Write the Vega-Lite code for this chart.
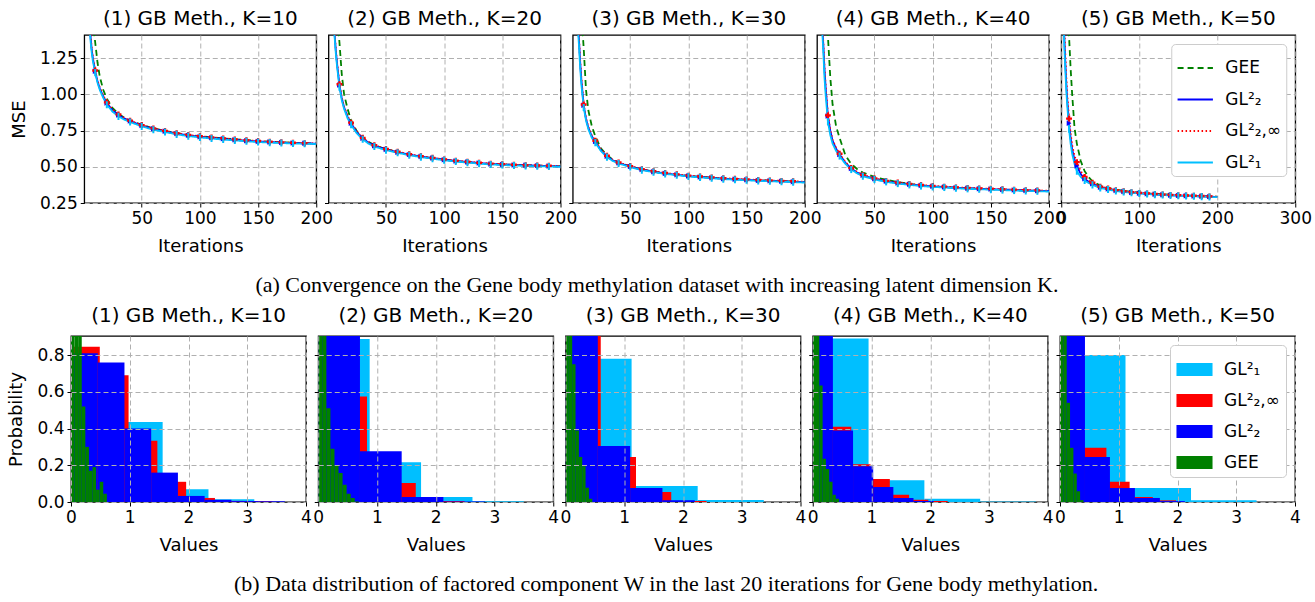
{
"$schema": "https://vega.github.io/schema/vega-lite/v6.json",
"padding": {"left": 7, "top": 8, "right": 5, "bottom": 5},
"background": "white",
"config": {
  "font": "DejaVu Sans",
  "view": {"stroke": "black", "strokeWidth": 1.3},
  "axis": {"domain": false, "grid": true, "gridColor": "#b0b0b0", "gridDash": [5, 3], "gridWidth": 1, "tickColor": "black", "tickSize": 4, "tickWidth": 1, "labelFontSize": 17, "labelColor": "black", "titleFontSize": 18, "titleFontWeight": "normal", "titleColor": "black", "labelFont": "DejaVu Sans", "titleFont": "DejaVu Sans", "labelPadding": 3, "titlePadding": 11, "labelOverlap": false, "labelBound": false, "labelFlush": false},
  "title": {"font": "DejaVu Sans", "fontSize": 20, "fontWeight": "normal", "color": "black", "offset": 6}
},
"datasets": {
"lines": [
{"p":1,"it":1,"GEE":6.0,"GL22":3.6,"GL2inf":3.62,"GL1":3.5},
{"p":1,"it":2,"GEE":4.0,"GL22":2.5,"GL2inf":2.52,"GL1":2.4},
{"p":1,"it":3,"GEE":3.0,"GL22":1.95,"GL2inf":1.96,"GL1":1.9},
{"p":1,"it":4,"GEE":2.4,"GL22":1.7,"GL2inf":1.71,"GL1":1.65},
{"p":1,"it":5,"GEE":2.0,"GL22":1.52,"GL2inf":1.53,"GL1":1.48},
{"p":1,"it":6,"GEE":1.8,"GL22":1.40,"GL2inf":1.41,"GL1":1.37},
{"p":1,"it":7,"GEE":1.62,"GL22":1.31,"GL2inf":1.32,"GL1":1.29},
{"p":1,"it":8,"GEE":1.5,"GL22":1.25,"GL2inf":1.255,"GL1":1.23},
{"p":1,"it":10,"GEE":1.36,"GL22":1.16,"GL2inf":1.165,"GL1":1.15},
{"p":1,"it":12,"GEE":1.22,"GL22":1.09,"GL2inf":1.095,"GL1":1.08},
{"p":1,"it":14,"GEE":1.12,"GL22":1.04,"GL2inf":1.045,"GL1":1.03},
{"p":1,"it":17,"GEE":1.03,"GL22":0.985,"GL2inf":0.99,"GL1":0.975},
{"p":1,"it":20,"GEE":0.97,"GL22":0.94,"GL2inf":0.945,"GL1":0.928},
{"p":1,"it":25,"GEE":0.905,"GL22":0.89,"GL2inf":0.895,"GL1":0.88},
{"p":1,"it":30,"GEE":0.866,"GL22":0.858,"GL2inf":0.862,"GL1":0.848},
{"p":1,"it":35,"GEE":0.84,"GL22":0.834,"GL2inf":0.838,"GL1":0.826},
{"p":1,"it":40,"GEE":0.82,"GL22":0.816,"GL2inf":0.819,"GL1":0.809},
{"p":1,"it":50,"GEE":0.79,"GL22":0.785,"GL2inf":0.788,"GL1":0.779},
{"p":1,"it":60,"GEE":0.765,"GL22":0.762,"GL2inf":0.765,"GL1":0.756},
{"p":1,"it":70,"GEE":0.748,"GL22":0.745,"GL2inf":0.748,"GL1":0.74},
{"p":1,"it":80,"GEE":0.732,"GL22":0.729,"GL2inf":0.732,"GL1":0.724},
{"p":1,"it":90,"GEE":0.72,"GL22":0.717,"GL2inf":0.72,"GL1":0.712},
{"p":1,"it":100,"GEE":0.711,"GL22":0.708,"GL2inf":0.711,"GL1":0.703},
{"p":1,"it":110,"GEE":0.703,"GL22":0.70,"GL2inf":0.703,"GL1":0.695},
{"p":1,"it":120,"GEE":0.696,"GL22":0.693,"GL2inf":0.696,"GL1":0.688},
{"p":1,"it":130,"GEE":0.69,"GL22":0.686,"GL2inf":0.689,"GL1":0.682},
{"p":1,"it":140,"GEE":0.684,"GL22":0.68,"GL2inf":0.683,"GL1":0.676},
{"p":1,"it":150,"GEE":0.678,"GL22":0.675,"GL2inf":0.678,"GL1":0.671},
{"p":1,"it":160,"GEE":0.673,"GL22":0.671,"GL2inf":0.673,"GL1":0.667},
{"p":1,"it":170,"GEE":0.669,"GL22":0.667,"GL2inf":0.669,"GL1":0.664},
{"p":1,"it":180,"GEE":0.666,"GL22":0.664,"GL2inf":0.666,"GL1":0.661},
{"p":1,"it":190,"GEE":0.663,"GL22":0.662,"GL2inf":0.663,"GL1":0.659},
{"p":1,"it":200,"GEE":0.66,"GL22":0.66,"GL2inf":0.661,"GL1":0.657},
{"p":2,"it":1,"GEE":6.0,"GL22":3.6,"GL2inf":3.62,"GL1":3.5},
{"p":2,"it":2,"GEE":4.0,"GL22":2.5,"GL2inf":2.52,"GL1":2.4},
{"p":2,"it":3,"GEE":3.0,"GL22":1.95,"GL2inf":1.96,"GL1":1.9},
{"p":2,"it":4,"GEE":2.4,"GL22":1.7,"GL2inf":1.71,"GL1":1.65},
{"p":2,"it":5,"GEE":2.05,"GL22":1.52,"GL2inf":1.53,"GL1":1.48},
{"p":2,"it":6,"GEE":1.85,"GL22":1.40,"GL2inf":1.41,"GL1":1.38},
{"p":2,"it":7,"GEE":1.68,"GL22":1.29,"GL2inf":1.30,"GL1":1.27},
{"p":2,"it":8,"GEE":1.55,"GL22":1.21,"GL2inf":1.215,"GL1":1.19},
{"p":2,"it":10,"GEE":1.36,"GL22":1.065,"GL2inf":1.07,"GL1":1.05},
{"p":2,"it":12,"GEE":1.14,"GL22":0.975,"GL2inf":0.98,"GL1":0.96},
{"p":2,"it":14,"GEE":1.0,"GL22":0.91,"GL2inf":0.915,"GL1":0.90},
{"p":2,"it":17,"GEE":0.90,"GL22":0.845,"GL2inf":0.85,"GL1":0.835},
{"p":2,"it":20,"GEE":0.82,"GL22":0.80,"GL2inf":0.805,"GL1":0.79},
{"p":2,"it":25,"GEE":0.745,"GL22":0.738,"GL2inf":0.742,"GL1":0.73},
{"p":2,"it":30,"GEE":0.70,"GL22":0.697,"GL2inf":0.70,"GL1":0.69},
{"p":2,"it":35,"GEE":0.672,"GL22":0.667,"GL2inf":0.67,"GL1":0.66},
{"p":2,"it":40,"GEE":0.65,"GL22":0.646,"GL2inf":0.649,"GL1":0.64},
{"p":2,"it":50,"GEE":0.622,"GL22":0.62,"GL2inf":0.623,"GL1":0.615},
{"p":2,"it":60,"GEE":0.602,"GL22":0.601,"GL2inf":0.604,"GL1":0.597},
{"p":2,"it":70,"GEE":0.585,"GL22":0.584,"GL2inf":0.587,"GL1":0.58},
{"p":2,"it":80,"GEE":0.571,"GL22":0.571,"GL2inf":0.573,"GL1":0.567},
{"p":2,"it":90,"GEE":0.56,"GL22":0.56,"GL2inf":0.562,"GL1":0.556},
{"p":2,"it":100,"GEE":0.549,"GL22":0.549,"GL2inf":0.551,"GL1":0.545},
{"p":2,"it":110,"GEE":0.54,"GL22":0.54,"GL2inf":0.542,"GL1":0.536},
{"p":2,"it":120,"GEE":0.533,"GL22":0.533,"GL2inf":0.535,"GL1":0.529},
{"p":2,"it":130,"GEE":0.526,"GL22":0.526,"GL2inf":0.528,"GL1":0.522},
{"p":2,"it":140,"GEE":0.52,"GL22":0.52,"GL2inf":0.522,"GL1":0.516},
{"p":2,"it":150,"GEE":0.516,"GL22":0.516,"GL2inf":0.518,"GL1":0.512},
{"p":2,"it":160,"GEE":0.513,"GL22":0.513,"GL2inf":0.514,"GL1":0.509},
{"p":2,"it":170,"GEE":0.51,"GL22":0.51,"GL2inf":0.511,"GL1":0.506},
{"p":2,"it":180,"GEE":0.508,"GL22":0.508,"GL2inf":0.509,"GL1":0.504},
{"p":2,"it":190,"GEE":0.506,"GL22":0.505,"GL2inf":0.507,"GL1":0.502},
{"p":2,"it":200,"GEE":0.504,"GL22":0.503,"GL2inf":0.505,"GL1":0.50},
{"p":3,"it":1,"GEE":6.0,"GL22":3.4,"GL2inf":3.42,"GL1":3.3},
{"p":3,"it":2,"GEE":4.0,"GL22":2.4,"GL2inf":2.42,"GL1":2.3},
{"p":3,"it":3,"GEE":3.0,"GL22":1.92,"GL2inf":1.93,"GL1":1.85},
{"p":3,"it":4,"GEE":2.5,"GL22":1.67,"GL2inf":1.68,"GL1":1.62},
{"p":3,"it":5,"GEE":2.1,"GL22":1.5,"GL2inf":1.51,"GL1":1.46},
{"p":3,"it":6,"GEE":1.9,"GL22":1.37,"GL2inf":1.38,"GL1":1.33},
{"p":3,"it":7,"GEE":1.7,"GL22":1.22,"GL2inf":1.23,"GL1":1.18},
{"p":3,"it":8,"GEE":1.56,"GL22":1.10,"GL2inf":1.11,"GL1":1.07},
{"p":3,"it":10,"GEE":1.32,"GL22":0.925,"GL2inf":0.93,"GL1":0.91},
{"p":3,"it":12,"GEE":1.03,"GL22":0.83,"GL2inf":0.835,"GL1":0.82},
{"p":3,"it":14,"GEE":0.89,"GL22":0.77,"GL2inf":0.775,"GL1":0.76},
{"p":3,"it":17,"GEE":0.78,"GL22":0.71,"GL2inf":0.715,"GL1":0.70},
{"p":3,"it":20,"GEE":0.71,"GL22":0.675,"GL2inf":0.68,"GL1":0.667},
{"p":3,"it":25,"GEE":0.625,"GL22":0.613,"GL2inf":0.617,"GL1":0.607},
{"p":3,"it":30,"GEE":0.58,"GL22":0.572,"GL2inf":0.576,"GL1":0.567},
{"p":3,"it":35,"GEE":0.55,"GL22":0.545,"GL2inf":0.548,"GL1":0.54},
{"p":3,"it":40,"GEE":0.53,"GL22":0.527,"GL2inf":0.53,"GL1":0.523},
{"p":3,"it":50,"GEE":0.503,"GL22":0.502,"GL2inf":0.505,"GL1":0.498},
{"p":3,"it":60,"GEE":0.481,"GL22":0.481,"GL2inf":0.484,"GL1":0.477},
{"p":3,"it":70,"GEE":0.467,"GL22":0.466,"GL2inf":0.469,"GL1":0.463},
{"p":3,"it":80,"GEE":0.455,"GL22":0.454,"GL2inf":0.457,"GL1":0.451},
{"p":3,"it":90,"GEE":0.446,"GL22":0.445,"GL2inf":0.448,"GL1":0.442},
{"p":3,"it":100,"GEE":0.437,"GL22":0.436,"GL2inf":0.439,"GL1":0.433},
{"p":3,"it":110,"GEE":0.431,"GL22":0.43,"GL2inf":0.433,"GL1":0.427},
{"p":3,"it":120,"GEE":0.425,"GL22":0.424,"GL2inf":0.427,"GL1":0.421},
{"p":3,"it":130,"GEE":0.419,"GL22":0.418,"GL2inf":0.421,"GL1":0.415},
{"p":3,"it":140,"GEE":0.415,"GL22":0.414,"GL2inf":0.417,"GL1":0.411},
{"p":3,"it":150,"GEE":0.411,"GL22":0.41,"GL2inf":0.413,"GL1":0.407},
{"p":3,"it":160,"GEE":0.407,"GL22":0.406,"GL2inf":0.409,"GL1":0.403},
{"p":3,"it":170,"GEE":0.404,"GL22":0.403,"GL2inf":0.406,"GL1":0.40},
{"p":3,"it":180,"GEE":0.401,"GL22":0.40,"GL2inf":0.403,"GL1":0.397},
{"p":3,"it":190,"GEE":0.398,"GL22":0.397,"GL2inf":0.40,"GL1":0.394},
{"p":3,"it":200,"GEE":0.395,"GL22":0.394,"GL2inf":0.397,"GL1":0.391},
{"p":4,"it":1,"GEE":6.0,"GL22":3.4,"GL2inf":3.42,"GL1":3.3},
{"p":4,"it":2,"GEE":4.0,"GL22":2.4,"GL2inf":2.42,"GL1":2.3},
{"p":4,"it":3,"GEE":3.0,"GL22":1.9,"GL2inf":1.91,"GL1":1.85},
{"p":4,"it":4,"GEE":2.5,"GL22":1.65,"GL2inf":1.66,"GL1":1.6},
{"p":4,"it":5,"GEE":2.15,"GL22":1.49,"GL2inf":1.5,"GL1":1.45},
{"p":4,"it":6,"GEE":1.95,"GL22":1.35,"GL2inf":1.36,"GL1":1.3},
{"p":4,"it":7,"GEE":1.78,"GL22":1.18,"GL2inf":1.19,"GL1":1.12},
{"p":4,"it":8,"GEE":1.65,"GL22":1.05,"GL2inf":1.06,"GL1":1.0},
{"p":4,"it":10,"GEE":1.40,"GL22":0.85,"GL2inf":0.855,"GL1":0.81},
{"p":4,"it":12,"GEE":1.12,"GL22":0.75,"GL2inf":0.755,"GL1":0.72},
{"p":4,"it":14,"GEE":0.93,"GL22":0.68,"GL2inf":0.685,"GL1":0.66},
{"p":4,"it":17,"GEE":0.78,"GL22":0.625,"GL2inf":0.63,"GL1":0.61},
{"p":4,"it":20,"GEE":0.70,"GL22":0.585,"GL2inf":0.59,"GL1":0.574},
{"p":4,"it":25,"GEE":0.58,"GL22":0.528,"GL2inf":0.532,"GL1":0.52},
{"p":4,"it":30,"GEE":0.52,"GL22":0.488,"GL2inf":0.492,"GL1":0.481},
{"p":4,"it":35,"GEE":0.485,"GL22":0.461,"GL2inf":0.465,"GL1":0.455},
{"p":4,"it":40,"GEE":0.46,"GL22":0.441,"GL2inf":0.444,"GL1":0.435},
{"p":4,"it":50,"GEE":0.43,"GL22":0.417,"GL2inf":0.42,"GL1":0.412},
{"p":4,"it":60,"GEE":0.41,"GL22":0.40,"GL2inf":0.403,"GL1":0.396},
{"p":4,"it":70,"GEE":0.395,"GL22":0.388,"GL2inf":0.391,"GL1":0.384},
{"p":4,"it":80,"GEE":0.382,"GL22":0.379,"GL2inf":0.382,"GL1":0.375},
{"p":4,"it":90,"GEE":0.372,"GL22":0.371,"GL2inf":0.374,"GL1":0.367},
{"p":4,"it":100,"GEE":0.365,"GL22":0.365,"GL2inf":0.368,"GL1":0.361},
{"p":4,"it":110,"GEE":0.36,"GL22":0.36,"GL2inf":0.363,"GL1":0.357},
{"p":4,"it":120,"GEE":0.355,"GL22":0.356,"GL2inf":0.358,"GL1":0.352},
{"p":4,"it":130,"GEE":0.351,"GL22":0.352,"GL2inf":0.354,"GL1":0.348},
{"p":4,"it":140,"GEE":0.348,"GL22":0.349,"GL2inf":0.351,"GL1":0.345},
{"p":4,"it":150,"GEE":0.345,"GL22":0.346,"GL2inf":0.348,"GL1":0.342},
{"p":4,"it":160,"GEE":0.342,"GL22":0.343,"GL2inf":0.345,"GL1":0.339},
{"p":4,"it":170,"GEE":0.339,"GL22":0.34,"GL2inf":0.342,"GL1":0.336},
{"p":4,"it":180,"GEE":0.336,"GL22":0.337,"GL2inf":0.339,"GL1":0.333},
{"p":4,"it":190,"GEE":0.334,"GL22":0.335,"GL2inf":0.337,"GL1":0.331},
{"p":4,"it":200,"GEE":0.332,"GL22":0.333,"GL2inf":0.335,"GL1":0.329},
{"p":5,"it":1,"GEE":6.0,"GL22":2.7,"GL2inf":2.8,"GL1":2.6},
{"p":5,"it":2,"GEE":4.0,"GL22":2.0,"GL2inf":2.1,"GL1":1.9},
{"p":5,"it":3,"GEE":3.0,"GL22":1.58,"GL2inf":1.65,"GL1":1.5},
{"p":5,"it":4,"GEE":2.4,"GL22":1.39,"GL2inf":1.45,"GL1":1.32},
{"p":5,"it":5,"GEE":2.0,"GL22":1.25,"GL2inf":1.3,"GL1":1.2},
{"p":5,"it":6,"GEE":1.8,"GL22":1.13,"GL2inf":1.17,"GL1":1.08},
{"p":5,"it":7,"GEE":1.65,"GL22":1.02,"GL2inf":1.06,"GL1":0.98},
{"p":5,"it":8,"GEE":1.55,"GL22":0.94,"GL2inf":0.97,"GL1":0.9},
{"p":5,"it":10,"GEE":1.40,"GL22":0.80,"GL2inf":0.833,"GL1":0.76},
{"p":5,"it":12,"GEE":1.18,"GL22":0.70,"GL2inf":0.73,"GL1":0.66},
{"p":5,"it":14,"GEE":1.0,"GL22":0.62,"GL2inf":0.65,"GL1":0.59},
{"p":5,"it":17,"GEE":0.77,"GL22":0.55,"GL2inf":0.575,"GL1":0.52},
{"p":5,"it":20,"GEE":0.66,"GL22":0.505,"GL2inf":0.532,"GL1":0.47},
{"p":5,"it":25,"GEE":0.54,"GL22":0.45,"GL2inf":0.47,"GL1":0.43},
{"p":5,"it":30,"GEE":0.47,"GL22":0.418,"GL2inf":0.43,"GL1":0.405},
{"p":5,"it":35,"GEE":0.43,"GL22":0.397,"GL2inf":0.405,"GL1":0.388},
{"p":5,"it":40,"GEE":0.40,"GL22":0.383,"GL2inf":0.39,"GL1":0.375},
{"p":5,"it":50,"GEE":0.37,"GL22":0.359,"GL2inf":0.363,"GL1":0.354},
{"p":5,"it":60,"GEE":0.355,"GL22":0.347,"GL2inf":0.35,"GL1":0.343},
{"p":5,"it":70,"GEE":0.342,"GL22":0.336,"GL2inf":0.339,"GL1":0.333},
{"p":5,"it":80,"GEE":0.334,"GL22":0.329,"GL2inf":0.331,"GL1":0.326},
{"p":5,"it":90,"GEE":0.328,"GL22":0.323,"GL2inf":0.325,"GL1":0.321},
{"p":5,"it":100,"GEE":0.322,"GL22":0.318,"GL2inf":0.32,"GL1":0.316},
{"p":5,"it":110,"GEE":0.317,"GL22":0.314,"GL2inf":0.316,"GL1":0.312},
{"p":5,"it":120,"GEE":0.313,"GL22":0.31,"GL2inf":0.312,"GL1":0.308},
{"p":5,"it":130,"GEE":0.31,"GL22":0.307,"GL2inf":0.309,"GL1":0.305},
{"p":5,"it":140,"GEE":0.307,"GL22":0.304,"GL2inf":0.306,"GL1":0.302},
{"p":5,"it":150,"GEE":0.305,"GL22":0.302,"GL2inf":0.304,"GL1":0.30},
{"p":5,"it":160,"GEE":0.302,"GL22":0.30,"GL2inf":0.302,"GL1":0.298},
{"p":5,"it":170,"GEE":0.30,"GL22":0.298,"GL2inf":0.30,"GL1":0.296},
{"p":5,"it":180,"GEE":0.298,"GL22":0.296,"GL2inf":0.298,"GL1":0.294},
{"p":5,"it":190,"GEE":0.296,"GL22":0.294,"GL2inf":0.296,"GL1":0.292},
{"p":5,"it":200,"GEE":0.294,"GL22":0.292,"GL2inf":0.294,"GL1":0.29}
],
"hist": [
{"p":1,"s":"GL1","lo":0,"hi":0.78,"h":0.75},
{"p":1,"s":"GL1","lo":0.78,"hi":1.56,"h":0.436},
{"p":1,"s":"GL1","lo":1.56,"hi":2.34,"h":0.07},
{"p":1,"s":"GL1","lo":2.34,"hi":3.12,"h":0.015},
{"p":1,"s":"GL2inf","lo":0,"hi":0.49,"h":0.845},
{"p":1,"s":"GL2inf","lo":0.49,"hi":0.98,"h":0.69},
{"p":1,"s":"GL2inf","lo":0.98,"hi":1.47,"h":0.333},
{"p":1,"s":"GL2inf","lo":1.47,"hi":1.96,"h":0.11},
{"p":1,"s":"GL2inf","lo":1.96,"hi":2.45,"h":0.022},
{"p":1,"s":"GL2inf","lo":2.45,"hi":2.94,"h":0.006},
{"p":1,"s":"GL2inf","lo":2.94,"hi":3.43,"h":0.004},
{"p":1,"s":"GL22","lo":0,"hi":0.455,"h":0.81},
{"p":1,"s":"GL22","lo":0.455,"hi":0.91,"h":0.76},
{"p":1,"s":"GL22","lo":0.91,"hi":1.365,"h":0.40},
{"p":1,"s":"GL22","lo":1.365,"hi":1.82,"h":0.16},
{"p":1,"s":"GL22","lo":1.82,"hi":2.275,"h":0.033},
{"p":1,"s":"GL22","lo":2.275,"hi":2.73,"h":0.012},
{"p":1,"s":"GL22","lo":2.73,"hi":3.185,"h":0.005},
{"p":1,"s":"GL22","lo":3.185,"hi":3.64,"h":0.004},
{"p":1,"s":"GEE","lo":0,"hi":0.061,"h":8.5},
{"p":1,"s":"GEE","lo":0.061,"hi":0.122,"h":4.3},
{"p":1,"s":"GEE","lo":0.122,"hi":0.183,"h":2.2},
{"p":1,"s":"GEE","lo":0.183,"hi":0.244,"h":0.52},
{"p":1,"s":"GEE","lo":0.244,"hi":0.305,"h":0.30},
{"p":1,"s":"GEE","lo":0.305,"hi":0.366,"h":0.17},
{"p":1,"s":"GEE","lo":0.366,"hi":0.427,"h":0.19},
{"p":1,"s":"GEE","lo":0.427,"hi":0.488,"h":0.067},
{"p":1,"s":"GEE","lo":0.488,"hi":0.549,"h":0.11},
{"p":1,"s":"GEE","lo":0.549,"hi":0.61,"h":0.045},
{"p":2,"s":"GL1","lo":0,"hi":0.875,"h":0.887},
{"p":2,"s":"GL1","lo":0.875,"hi":1.75,"h":0.217},
{"p":2,"s":"GL1","lo":1.75,"hi":2.625,"h":0.027},
{"p":2,"s":"GL1","lo":2.625,"hi":3.5,"h":0.004},
{"p":2,"s":"GL2inf","lo":0,"hi":0.415,"h":1.5},
{"p":2,"s":"GL2inf","lo":0.415,"hi":0.83,"h":0.575},
{"p":2,"s":"GL2inf","lo":0.83,"hi":1.245,"h":0.2},
{"p":2,"s":"GL2inf","lo":1.245,"hi":1.66,"h":0.103},
{"p":2,"s":"GL2inf","lo":1.66,"hi":2.075,"h":0.01},
{"p":2,"s":"GL2inf","lo":2.075,"hi":2.49,"h":0.005},
{"p":2,"s":"GL22","lo":0,"hi":0.71,"h":1.1},
{"p":2,"s":"GL22","lo":0.71,"hi":1.42,"h":0.277},
{"p":2,"s":"GL22","lo":1.42,"hi":2.13,"h":0.027},
{"p":2,"s":"GL22","lo":2.13,"hi":2.84,"h":0.003},
{"p":2,"s":"GEE","lo":0,"hi":0.069,"h":9.0},
{"p":2,"s":"GEE","lo":0.069,"hi":0.138,"h":4.2},
{"p":2,"s":"GEE","lo":0.138,"hi":0.207,"h":0.51},
{"p":2,"s":"GEE","lo":0.207,"hi":0.276,"h":0.29},
{"p":2,"s":"GEE","lo":0.276,"hi":0.345,"h":0.20},
{"p":2,"s":"GEE","lo":0.345,"hi":0.414,"h":0.158},
{"p":2,"s":"GEE","lo":0.414,"hi":0.483,"h":0.094},
{"p":2,"s":"GEE","lo":0.483,"hi":0.552,"h":0.045},
{"p":2,"s":"GEE","lo":0.552,"hi":0.621,"h":0.022},
{"p":2,"s":"GEE","lo":0.621,"hi":0.69,"h":0.003},
{"p":3,"s":"GL1","lo":0,"hi":1.125,"h":0.78},
{"p":3,"s":"GL1","lo":1.125,"hi":2.25,"h":0.087},
{"p":3,"s":"GL1","lo":2.25,"hi":3.375,"h":0.011},
{"p":3,"s":"GL2inf","lo":0,"hi":0.6,"h":1.3},
{"p":3,"s":"GL2inf","lo":0.6,"hi":1.2,"h":0.245},
{"p":3,"s":"GL2inf","lo":1.2,"hi":1.8,"h":0.055},
{"p":3,"s":"GL2inf","lo":1.8,"hi":2.4,"h":0.005},
{"p":3,"s":"GL22","lo":0,"hi":0.55,"h":1.4},
{"p":3,"s":"GL22","lo":0.55,"hi":1.1,"h":0.305},
{"p":3,"s":"GL22","lo":1.1,"hi":1.65,"h":0.076},
{"p":3,"s":"GL22","lo":1.65,"hi":2.2,"h":0.01},
{"p":3,"s":"GEE","lo":0,"hi":0.057,"h":11},
{"p":3,"s":"GEE","lo":0.057,"hi":0.114,"h":4.8},
{"p":3,"s":"GEE","lo":0.114,"hi":0.171,"h":0.75},
{"p":3,"s":"GEE","lo":0.171,"hi":0.228,"h":0.39},
{"p":3,"s":"GEE","lo":0.228,"hi":0.285,"h":0.245},
{"p":3,"s":"GEE","lo":0.285,"hi":0.342,"h":0.195},
{"p":3,"s":"GEE","lo":0.342,"hi":0.399,"h":0.078},
{"p":3,"s":"GEE","lo":0.399,"hi":0.456,"h":0.018},
{"p":4,"s":"GL1","lo":0,"hi":0.95,"h":0.89},
{"p":4,"s":"GL1","lo":0.95,"hi":1.9,"h":0.118},
{"p":4,"s":"GL1","lo":1.9,"hi":2.85,"h":0.018},
{"p":4,"s":"GL1","lo":2.85,"hi":3.8,"h":0.003},
{"p":4,"s":"GL2inf","lo":0,"hi":0.328,"h":2.27},
{"p":4,"s":"GL2inf","lo":0.328,"hi":0.656,"h":0.41},
{"p":4,"s":"GL2inf","lo":0.656,"hi":0.984,"h":0.205},
{"p":4,"s":"GL2inf","lo":0.984,"hi":1.312,"h":0.125},
{"p":4,"s":"GL2inf","lo":1.312,"hi":1.64,"h":0.04},
{"p":4,"s":"GL2inf","lo":1.64,"hi":1.968,"h":0.012},
{"p":4,"s":"GL2inf","lo":1.968,"hi":2.296,"h":0.005},
{"p":4,"s":"GL22","lo":0,"hi":0.343,"h":2.22},
{"p":4,"s":"GL22","lo":0.343,"hi":0.686,"h":0.39},
{"p":4,"s":"GL22","lo":0.686,"hi":1.029,"h":0.195},
{"p":4,"s":"GL22","lo":1.029,"hi":1.372,"h":0.082},
{"p":4,"s":"GL22","lo":1.372,"hi":1.715,"h":0.022},
{"p":4,"s":"GL22","lo":1.715,"hi":2.058,"h":0.006},
{"p":4,"s":"GEE","lo":0,"hi":0.056,"h":11.5},
{"p":4,"s":"GEE","lo":0.056,"hi":0.112,"h":5.2},
{"p":4,"s":"GEE","lo":0.112,"hi":0.168,"h":0.635},
{"p":4,"s":"GEE","lo":0.168,"hi":0.224,"h":0.235},
{"p":4,"s":"GEE","lo":0.224,"hi":0.28,"h":0.18},
{"p":4,"s":"GEE","lo":0.28,"hi":0.336,"h":0.11},
{"p":4,"s":"GEE","lo":0.336,"hi":0.392,"h":0.04},
{"p":4,"s":"GEE","lo":0.392,"hi":0.448,"h":0.018},
{"p":5,"s":"GL1","lo":0,"hi":1.115,"h":0.80},
{"p":5,"s":"GL1","lo":1.115,"hi":2.23,"h":0.076},
{"p":5,"s":"GL1","lo":2.23,"hi":3.345,"h":0.009},
{"p":5,"s":"GL2inf","lo":0,"hi":0.395,"h":2.09},
{"p":5,"s":"GL2inf","lo":0.395,"hi":0.79,"h":0.295},
{"p":5,"s":"GL2inf","lo":0.79,"hi":1.185,"h":0.11},
{"p":5,"s":"GL2inf","lo":1.185,"hi":1.58,"h":0.027},
{"p":5,"s":"GL2inf","lo":1.58,"hi":1.975,"h":0.009},
{"p":5,"s":"GL22","lo":0,"hi":0.425,"h":2.0},
{"p":5,"s":"GL22","lo":0.425,"hi":0.85,"h":0.245},
{"p":5,"s":"GL22","lo":0.85,"hi":1.275,"h":0.076},
{"p":5,"s":"GL22","lo":1.275,"hi":1.7,"h":0.022},
{"p":5,"s":"GL22","lo":1.7,"hi":2.125,"h":0.005},
{"p":5,"s":"GEE","lo":0,"hi":0.057,"h":11.5},
{"p":5,"s":"GEE","lo":0.057,"hi":0.114,"h":5.0},
{"p":5,"s":"GEE","lo":0.114,"hi":0.171,"h":0.54},
{"p":5,"s":"GEE","lo":0.171,"hi":0.228,"h":0.295},
{"p":5,"s":"GEE","lo":0.228,"hi":0.285,"h":0.155},
{"p":5,"s":"GEE","lo":0.285,"hi":0.342,"h":0.058},
{"p":5,"s":"GEE","lo":0.342,"hi":0.399,"h":0.01}
]
},
"spacing": 9,
"bounds": "full",
"resolve": {"scale": {"color": "independent", "strokeDash": "independent"}, "legend": {"color": "independent", "strokeDash": "independent"}},
"vconcat": [
{
  "spacing": 12.25,
  "bounds": "flush",
  "title": {"text": "(a)  Convergence on the Gene body methylation dataset with increasing latent dimension K.", "orient": "bottom", "font": "Liberation Serif", "fontSize": 22, "fontWeight": "normal", "anchor": "middle", "offset": 19, "dx": -4},
  "resolve": {"scale": {"color": "independent", "strokeDash": "independent"}, "legend": {"color": "independent", "strokeDash": "independent"}},
  "hconcat": [
    {"width": 0.75, "height": 168, "view": {"stroke": null}, "data": {"values": []}, "mark": "point"},
    {
      "width": 232, "height": 168, "title": "(1) GB Meth., K=10",
      "data": {"name": "lines"},
      "transform": [{"filter": "datum.p == 1"}, {"fold": ["GEE", "GL22", "GL2inf", "GL1"], "as": ["m", "v"]}],
      "encoding": {
        "x": {"field": "it", "type": "quantitative", "scale": {"domain": [0.6, 200], "nice": false, "zero": false}, "axis": {"values": [50, 100, 150, 200], "title": "Iterations"}},
        "y": {"field": "v", "type": "quantitative", "scale": {"domain": [0.25, 1.41], "nice": false, "zero": false}, "axis": {"values": [0.25, 0.5, 0.75, 1, 1.25], "format": ".2f", "title": "MSE"}}
      },
      "layer": [
        {"mark": {"type": "line", "clip": true, "strokeWidth": 1.8}, "encoding": {
          "color": {"field": "m", "type": "nominal", "scale": {"domain": ["GEE", "GL22", "GL2inf", "GL1"], "range": ["#008000", "#0000FF", "#FF0000", "#00BFFF"]}, "legend": null},
          "strokeDash": {"field": "m", "type": "nominal", "scale": {"domain": ["GEE", "GL22", "GL2inf", "GL1"], "range": [[6, 4], [1, 0], [1.5, 2.5], [1, 0]]}, "legend": null}}},
        {"transform": [{"filter": "datum.m == 'GL22' && datum.it % 10 == 0 && datum.it < 200"}], "mark": {"type": "point", "shape": "triangle-right", "filled": true, "color": "#0000FF", "size": 30, "opacity": 1, "clip": true}},
        {"transform": [{"filter": "datum.m == 'GL2inf' && datum.it % 10 == 0 && datum.it < 200"}], "mark": {"type": "point", "shape": "cross", "filled": true, "color": "#FF0000", "size": 35, "opacity": 1, "clip": true}},
        {"transform": [{"filter": "datum.m == 'GL1' && datum.it % 10 == 0 && datum.it < 200"}], "mark": {"type": "point", "shape": "M0,-1V1", "filled": false, "stroke": "#00BFFF", "strokeWidth": 2, "size": 50, "opacity": 1, "clip": true}}
      ]
    },
    {
      "width": 232, "height": 168, "title": "(2) GB Meth., K=20",
      "data": {"name": "lines"},
      "transform": [{"filter": "datum.p == 2"}, {"fold": ["GEE", "GL22", "GL2inf", "GL1"], "as": ["m", "v"]}],
      "encoding": {
        "x": {"field": "it", "type": "quantitative", "scale": {"domain": [0.6, 200], "nice": false, "zero": false}, "axis": {"values": [50, 100, 150, 200], "title": "Iterations"}},
        "y": {"field": "v", "type": "quantitative", "scale": {"domain": [0.25, 1.41], "nice": false, "zero": false}, "axis": {"values": [0.25, 0.5, 0.75, 1, 1.25], "labels": false, "title": null}}
      },
      "layer": [
        {"mark": {"type": "line", "clip": true, "strokeWidth": 1.8}, "encoding": {
          "color": {"field": "m", "type": "nominal", "scale": {"domain": ["GEE", "GL22", "GL2inf", "GL1"], "range": ["#008000", "#0000FF", "#FF0000", "#00BFFF"]}, "legend": null},
          "strokeDash": {"field": "m", "type": "nominal", "scale": {"domain": ["GEE", "GL22", "GL2inf", "GL1"], "range": [[6, 4], [1, 0], [1.5, 2.5], [1, 0]]}, "legend": null}}},
        {"transform": [{"filter": "datum.m == 'GL22' && datum.it % 10 == 0 && datum.it < 200"}], "mark": {"type": "point", "shape": "triangle-right", "filled": true, "color": "#0000FF", "size": 30, "opacity": 1, "clip": true}},
        {"transform": [{"filter": "datum.m == 'GL2inf' && datum.it % 10 == 0 && datum.it < 200"}], "mark": {"type": "point", "shape": "cross", "filled": true, "color": "#FF0000", "size": 35, "opacity": 1, "clip": true}},
        {"transform": [{"filter": "datum.m == 'GL1' && datum.it % 10 == 0 && datum.it < 200"}], "mark": {"type": "point", "shape": "M0,-1V1", "filled": false, "stroke": "#00BFFF", "strokeWidth": 2, "size": 50, "opacity": 1, "clip": true}}
      ]
    },
    {
      "width": 232, "height": 168, "title": "(3) GB Meth., K=30",
      "data": {"name": "lines"},
      "transform": [{"filter": "datum.p == 3"}, {"fold": ["GEE", "GL22", "GL2inf", "GL1"], "as": ["m", "v"]}],
      "encoding": {
        "x": {"field": "it", "type": "quantitative", "scale": {"domain": [0.6, 200], "nice": false, "zero": false}, "axis": {"values": [50, 100, 150, 200], "title": "Iterations"}},
        "y": {"field": "v", "type": "quantitative", "scale": {"domain": [0.25, 1.41], "nice": false, "zero": false}, "axis": {"values": [0.25, 0.5, 0.75, 1, 1.25], "labels": false, "title": null}}
      },
      "layer": [
        {"mark": {"type": "line", "clip": true, "strokeWidth": 1.8}, "encoding": {
          "color": {"field": "m", "type": "nominal", "scale": {"domain": ["GEE", "GL22", "GL2inf", "GL1"], "range": ["#008000", "#0000FF", "#FF0000", "#00BFFF"]}, "legend": null},
          "strokeDash": {"field": "m", "type": "nominal", "scale": {"domain": ["GEE", "GL22", "GL2inf", "GL1"], "range": [[6, 4], [1, 0], [1.5, 2.5], [1, 0]]}, "legend": null}}},
        {"transform": [{"filter": "datum.m == 'GL22' && datum.it % 10 == 0 && datum.it < 200"}], "mark": {"type": "point", "shape": "triangle-right", "filled": true, "color": "#0000FF", "size": 30, "opacity": 1, "clip": true}},
        {"transform": [{"filter": "datum.m == 'GL2inf' && datum.it % 10 == 0 && datum.it < 200"}], "mark": {"type": "point", "shape": "cross", "filled": true, "color": "#FF0000", "size": 35, "opacity": 1, "clip": true}},
        {"transform": [{"filter": "datum.m == 'GL1' && datum.it % 10 == 0 && datum.it < 200"}], "mark": {"type": "point", "shape": "M0,-1V1", "filled": false, "stroke": "#00BFFF", "strokeWidth": 2, "size": 50, "opacity": 1, "clip": true}}
      ]
    },
    {
      "width": 232, "height": 168, "title": "(4) GB Meth., K=40",
      "data": {"name": "lines"},
      "transform": [{"filter": "datum.p == 4"}, {"fold": ["GEE", "GL22", "GL2inf", "GL1"], "as": ["m", "v"]}],
      "encoding": {
        "x": {"field": "it", "type": "quantitative", "scale": {"domain": [0.6, 200], "nice": false, "zero": false}, "axis": {"values": [50, 100, 150, 200], "title": "Iterations"}},
        "y": {"field": "v", "type": "quantitative", "scale": {"domain": [0.25, 1.41], "nice": false, "zero": false}, "axis": {"values": [0.25, 0.5, 0.75, 1, 1.25], "labels": false, "title": null}}
      },
      "layer": [
        {"mark": {"type": "line", "clip": true, "strokeWidth": 1.8}, "encoding": {
          "color": {"field": "m", "type": "nominal", "scale": {"domain": ["GEE", "GL22", "GL2inf", "GL1"], "range": ["#008000", "#0000FF", "#FF0000", "#00BFFF"]}, "legend": null},
          "strokeDash": {"field": "m", "type": "nominal", "scale": {"domain": ["GEE", "GL22", "GL2inf", "GL1"], "range": [[6, 4], [1, 0], [1.5, 2.5], [1, 0]]}, "legend": null}}},
        {"transform": [{"filter": "datum.m == 'GL22' && datum.it % 10 == 0 && datum.it < 200"}], "mark": {"type": "point", "shape": "triangle-right", "filled": true, "color": "#0000FF", "size": 30, "opacity": 1, "clip": true}},
        {"transform": [{"filter": "datum.m == 'GL2inf' && datum.it % 10 == 0 && datum.it < 200"}], "mark": {"type": "point", "shape": "cross", "filled": true, "color": "#FF0000", "size": 35, "opacity": 1, "clip": true}},
        {"transform": [{"filter": "datum.m == 'GL1' && datum.it % 10 == 0 && datum.it < 200"}], "mark": {"type": "point", "shape": "M0,-1V1", "filled": false, "stroke": "#00BFFF", "strokeWidth": 2, "size": 50, "opacity": 1, "clip": true}}
      ]
    },
    {
      "width": 234, "height": 168, "title": "(5) GB Meth., K=50",
      "data": {"name": "lines"},
      "transform": [{"filter": "datum.p == 5"}, {"fold": ["GEE", "GL22", "GL2inf", "GL1"], "as": ["m", "v"]}],
      "encoding": {
        "x": {"field": "it", "type": "quantitative", "scale": {"domain": [0, 300], "nice": false, "zero": false}, "axis": {"values": [0, 100, 200, 300], "title": "Iterations"}},
        "y": {"field": "v", "type": "quantitative", "scale": {"domain": [0.25, 1.41], "nice": false, "zero": false}, "axis": {"values": [0.25, 0.5, 0.75, 1, 1.25], "labels": false, "title": null}}
      },
      "layer": [
        {"mark": {"type": "line", "clip": true, "strokeWidth": 1.8}, "encoding": {
          "color": {"field": "m", "type": "nominal", "scale": {"domain": ["GEE", "GL22", "GL2inf", "GL1"], "range": ["#008000", "#0000FF", "#FF0000", "#00BFFF"]},
            "legend": {"title": null, "orient": "top-right", "offset": 9, "fillColor": "white", "strokeColor": "#cccccc", "padding": 5, "cornerRadius": 4, "labelFontSize": 17, "labelColor": "black", "labelFont": "DejaVu Sans", "symbolType": "stroke", "symbolSize": 1250, "symbolStrokeWidth": 1.8, "rowPadding": 4.5, "labelOffset": 11, "labelExpr": "datum.label == 'GL22' ? 'GL²₂' : datum.label == 'GL2inf' ? 'GL²₂,∞' : datum.label == 'GL1' ? 'GL²₁' : datum.label"}},
          "strokeDash": {"field": "m", "type": "nominal", "scale": {"domain": ["GEE", "GL22", "GL2inf", "GL1"], "range": [[6, 4], [1, 0], [1.5, 2.5], [1, 0]]},
            "legend": {"title": null, "orient": "top-right", "offset": 9, "fillColor": "white", "strokeColor": "#cccccc", "padding": 5, "cornerRadius": 4, "labelFontSize": 17, "labelColor": "black", "labelFont": "DejaVu Sans", "symbolType": "stroke", "symbolSize": 1250, "symbolStrokeWidth": 1.8, "rowPadding": 4.5, "labelOffset": 11, "labelExpr": "datum.label == 'GL22' ? 'GL²₂' : datum.label == 'GL2inf' ? 'GL²₂,∞' : datum.label == 'GL1' ? 'GL²₁' : datum.label"}}}},
        {"transform": [{"filter": "datum.m == 'GL22' && datum.it % 10 == 0 && datum.it < 200"}], "mark": {"type": "point", "shape": "triangle-right", "filled": true, "color": "#0000FF", "size": 30, "opacity": 1, "clip": true}},
        {"transform": [{"filter": "datum.m == 'GL2inf' && datum.it % 10 == 0 && datum.it < 200"}], "mark": {"type": "point", "shape": "cross", "filled": true, "color": "#FF0000", "size": 35, "opacity": 1, "clip": true}},
        {"transform": [{"filter": "datum.m == 'GL1' && datum.it % 10 == 0 && datum.it < 200"}], "mark": {"type": "point", "shape": "M0,-1V1", "filled": false, "stroke": "#00BFFF", "strokeWidth": 2, "size": 50, "opacity": 1, "clip": true}}
      ]
    }
  ]
},
{
  "spacing": 12.25,
  "bounds": "flush",
  "title": {"text": "(b)  Data distribution of factored component W in the last 20 iterations for Gene body methylation.", "orient": "bottom", "font": "Liberation Serif", "fontSize": 22, "fontWeight": "normal", "anchor": "middle", "offset": 19, "dx": 12},
  "resolve": {"scale": {"color": "independent"}, "legend": {"color": "independent"}},
  "hconcat": [
    {
      "width": 235, "height": 166, "title": {"text": "(1) GB Meth., K=10", "offset": 10},
      "data": {"name": "hist"}, "transform": [{"filter": "datum.p == 1"}],
      "mark": {"type": "bar", "clip": true},
      "encoding": {
        "x": {"field": "lo", "type": "quantitative", "scale": {"domain": [0, 4], "nice": false}, "axis": {"values": [0, 1, 2, 3, 4], "format": "d", "title": "Values", "zindex": 1}},
        "x2": {"field": "hi"},
        "y": {"field": "h", "type": "quantitative", "stack": null, "scale": {"domain": [0, 0.904], "nice": false}, "axis": {"values": [0, 0.2, 0.4, 0.6, 0.8], "format": ".1f", "title": "Probability", "zindex": 1}},
        "y2": {"datum": 0},
        "color": {"field": "s", "type": "nominal", "scale": {"domain": ["GL1", "GL2inf", "GL22", "GEE"], "range": ["#00BFFF", "#FF0000", "#0000FF", "#008000"]}, "legend": null}
      }
    },
    {
      "width": 235, "height": 166, "title": {"text": "(2) GB Meth., K=20", "offset": 10},
      "data": {"name": "hist"}, "transform": [{"filter": "datum.p == 2"}],
      "mark": {"type": "bar", "clip": true},
      "encoding": {
        "x": {"field": "lo", "type": "quantitative", "scale": {"domain": [0, 4], "nice": false}, "axis": {"values": [0, 1, 2, 3, 4], "format": "d", "title": "Values", "zindex": 1}},
        "x2": {"field": "hi"},
        "y": {"field": "h", "type": "quantitative", "stack": null, "scale": {"domain": [0, 0.904], "nice": false}, "axis": {"values": [0, 0.2, 0.4, 0.6, 0.8], "labels": false, "title": null, "zindex": 1}},
        "y2": {"datum": 0},
        "color": {"field": "s", "type": "nominal", "scale": {"domain": ["GL1", "GL2inf", "GL22", "GEE"], "range": ["#00BFFF", "#FF0000", "#0000FF", "#008000"]}, "legend": null}
      }
    },
    {
      "width": 235, "height": 166, "title": {"text": "(3) GB Meth., K=30", "offset": 10},
      "data": {"name": "hist"}, "transform": [{"filter": "datum.p == 3"}],
      "mark": {"type": "bar", "clip": true},
      "encoding": {
        "x": {"field": "lo", "type": "quantitative", "scale": {"domain": [0, 4], "nice": false}, "axis": {"values": [0, 1, 2, 3, 4], "format": "d", "title": "Values", "zindex": 1}},
        "x2": {"field": "hi"},
        "y": {"field": "h", "type": "quantitative", "stack": null, "scale": {"domain": [0, 0.904], "nice": false}, "axis": {"values": [0, 0.2, 0.4, 0.6, 0.8], "labels": false, "title": null, "zindex": 1}},
        "y2": {"datum": 0},
        "color": {"field": "s", "type": "nominal", "scale": {"domain": ["GL1", "GL2inf", "GL22", "GEE"], "range": ["#00BFFF", "#FF0000", "#0000FF", "#008000"]}, "legend": null}
      }
    },
    {
      "width": 235, "height": 166, "title": {"text": "(4) GB Meth., K=40", "offset": 10},
      "data": {"name": "hist"}, "transform": [{"filter": "datum.p == 4"}],
      "mark": {"type": "bar", "clip": true},
      "encoding": {
        "x": {"field": "lo", "type": "quantitative", "scale": {"domain": [0, 4], "nice": false}, "axis": {"values": [0, 1, 2, 3, 4], "format": "d", "title": "Values", "zindex": 1}},
        "x2": {"field": "hi"},
        "y": {"field": "h", "type": "quantitative", "stack": null, "scale": {"domain": [0, 0.904], "nice": false}, "axis": {"values": [0, 0.2, 0.4, 0.6, 0.8], "labels": false, "title": null, "zindex": 1}},
        "y2": {"datum": 0},
        "color": {"field": "s", "type": "nominal", "scale": {"domain": ["GL1", "GL2inf", "GL22", "GEE"], "range": ["#00BFFF", "#FF0000", "#0000FF", "#008000"]}, "legend": null}
      }
    },
    {
      "width": 235, "height": 166, "title": {"text": "(5) GB Meth., K=50", "offset": 10},
      "data": {"name": "hist"}, "transform": [{"filter": "datum.p == 5"}],
      "mark": {"type": "bar", "clip": true},
      "encoding": {
        "x": {"field": "lo", "type": "quantitative", "scale": {"domain": [0, 4], "nice": false}, "axis": {"values": [0, 1, 2, 3, 4], "format": "d", "title": "Values", "zindex": 1}},
        "x2": {"field": "hi"},
        "y": {"field": "h", "type": "quantitative", "stack": null, "scale": {"domain": [0, 0.904], "nice": false}, "axis": {"values": [0, 0.2, 0.4, 0.6, 0.8], "labels": false, "title": null, "zindex": 1}},
        "y2": {"datum": 0},
        "color": {"field": "s", "type": "nominal", "scale": {"domain": ["GL1", "GL2inf", "GL22", "GEE"], "range": ["#00BFFF", "#FF0000", "#0000FF", "#008000"]},
          "legend": {"title": null, "orient": "top-right", "offset": 9, "fillColor": "white", "strokeColor": "#cccccc", "padding": 6, "cornerRadius": 4, "labelFontSize": 17, "labelColor": "black", "labelFont": "DejaVu Sans", "symbolType": "M-1,-0.36H1V0.36H-1Z", "symbolSize": 1300, "symbolStrokeWidth": 0, "rowPadding": 4, "labelOffset": 11, "zindex": 2, "labelExpr": "datum.label == 'GL22' ? 'GL²₂' : datum.label == 'GL2inf' ? 'GL²₂,∞' : datum.label == 'GL1' ? 'GL²₁' : datum.label"}}
      }
    }
  ]
}
]
}
